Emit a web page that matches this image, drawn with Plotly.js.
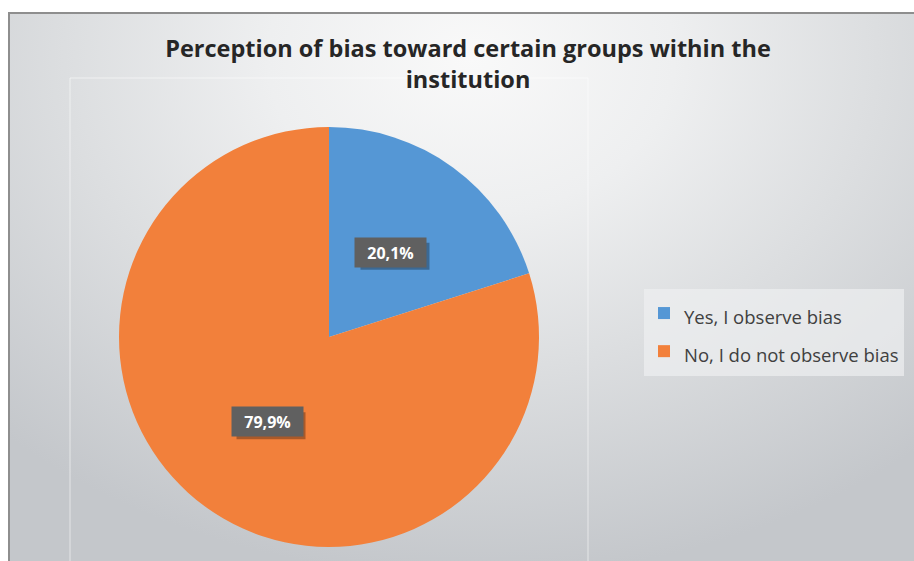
<!DOCTYPE html>
<html>
<head>
<meta charset="utf-8">
<script src="https://cdn.plot.ly/plotly-3.0.1.min.js"></script>
<style>
  html, body { margin: 0; padding: 0; width: 914px; height: 561px; overflow: hidden; background: #ffffff; }
  #frame { position: absolute; left: 8px; top: 12px; width: 906px; height: 549px;
    border-top: 2px solid #8e8e8e; border-left: 2px solid #8e8e8e; box-sizing: border-box;
    background: radial-gradient(ellipse 75% 95% at 51% 8%, #f9f9f9 0%, #eeeff0 30%, #dcdee0 60%, #c4c7cb 100%); }
  #chart { position: absolute; left: 0; top: 0; width: 914px; height: 561px; }
</style>
</head>
<body>
<div id="frame"></div>
<div id="chart"></div>
<script>
// ---- data ----
const categories = ["Yes, I observe bias", "No, I do not observe bias"];
const values = [20.1, 79.9];
const valueLabels = ["20,1%", "79,9%"];
const sliceColors = ["#5597d5", "#f2803b"];
const chartTitle = "Perception of bias toward certain groups within the<br>institution";

// ---- layout geometry (pixels) ----
const W = 914, H = 561;
const cx = 329, cy = 337, R = 210;
const boxW = 69, boxH = 27;
const dom = { x: [(cx - R) / W, (cx + R) / W], y: [(H - (cy + R)) / H, (H - (cy - R)) / H] };

// label positions derived from slice mid-angles
const total = values.reduce((a, b) => a + b, 0);
let acc = 0;
const annotations = [];
const shapes = [{ type: "rect", xref: "paper", yref: "paper", x0: 70 / W, x1: 588 / W, y0: -0.05, y1: (H - 78) / H,
    line: { color: "rgba(255,255,255,0.55)", width: 1 }, fillcolor: "rgba(0,0,0,0)", layer: "below" }];
values.forEach((v, i) => {
  const mid = (acc + v / 2) / total * 2 * Math.PI;
  acc += v;
  const px = cx + 0.5 * R * Math.sin(mid);
  const py = cy - 0.5 * R * Math.cos(mid);
  // drop shadow
  shapes.push({ type: "rect", xref: "paper", yref: "paper", layer: "above",
    x0: (px - boxW / 2 + 4) / W, x1: (px + boxW / 2 + 4) / W,
    y0: (H - (py + boxH / 2 + 4)) / H, y1: (H - (py - boxH / 2 + 4)) / H,
    fillcolor: "rgba(0,0,0,0.3)", line: { width: 0 } });
  annotations.push({ x: px / W, y: (H - py) / H, xref: "paper", yref: "paper", showarrow: false,
    width: boxW, height: boxH, xanchor: "center", yanchor: "middle",
    text: "<b>" + valueLabels[i] + "</b>", bgcolor: "#606060",
    font: { color: "#ffffff", size: 16, family: "Open Sans, sans-serif" } });
});

const trace = {
  type: "pie",
  labels: categories.map(c => '<span style="font-size:18.5px">' + c + '</span>'),
  values: values,
  sort: false,
  direction: "clockwise",
  rotation: 0,
  textinfo: "none",
  hoverinfo: "label+percent",
  marker: { colors: sliceColors, line: { width: 0 } },
  domain: dom
};

const layout = {
  width: W, height: H,
  margin: { l: 0, r: 0, t: 0, b: 0 },
  paper_bgcolor: "rgba(0,0,0,0)",
  plot_bgcolor: "rgba(0,0,0,0)",
  title: { text: "<b>" + chartTitle + "</b>", x: 468 / W, xanchor: "center",
    y: 1 - 57 / H, yanchor: "top", yref: "container",
    font: { family: "Open Sans, sans-serif", size: 23.5, color: "#262626" } },
  showlegend: true,
  legend: { x: 644 / W, xanchor: "left", y: (H - 289) / H, yanchor: "top",
    bgcolor: "rgba(238,239,241,0.7)", font: { family: "Open Sans, sans-serif", size: 27, color: "#404040" } },
  shapes: shapes,
  annotations: annotations
};

Plotly.newPlot("chart", [trace], layout, { displayModeBar: false, staticPlot: true });
</script>
</body>
</html>
